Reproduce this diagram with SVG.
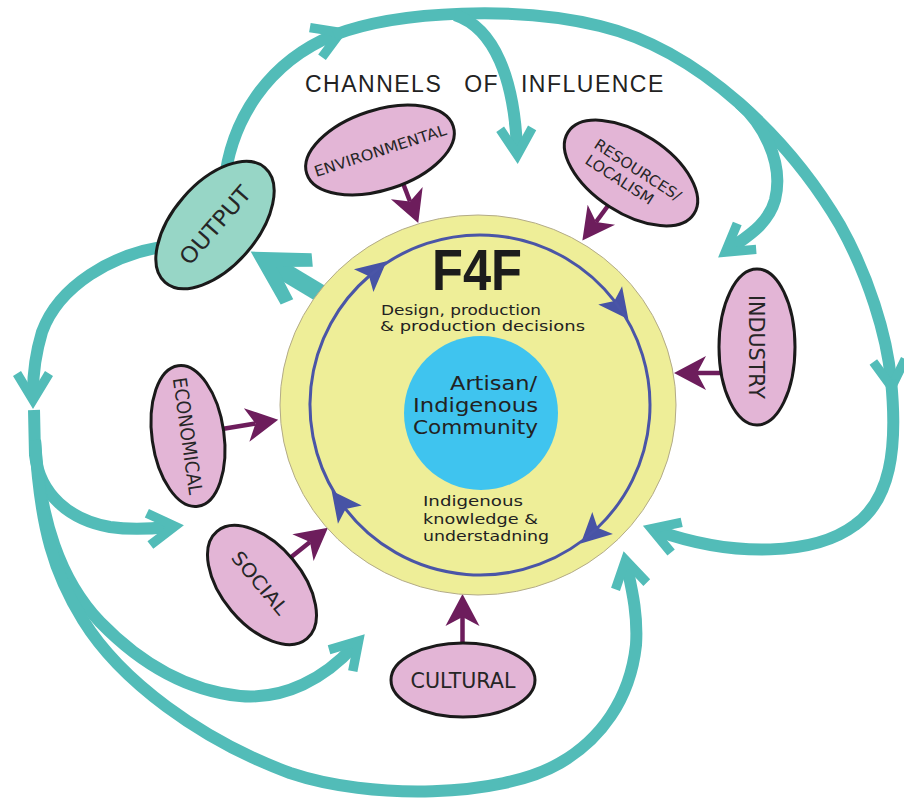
<svg xmlns="http://www.w3.org/2000/svg" width="904" height="802" viewBox="0 0 904 802">
  <defs>
    <style>
      .teal { fill: none; stroke: #52bcb8; stroke-width: 12; }
      .teal-big { fill: none; stroke: #52bcb8; stroke-width: 18; }
      .purple { fill: none; stroke: #6d1d5c; stroke-width: 4.5; }
      .oval { fill: #e3b5d6; stroke: #1a1a1a; stroke-width: 3; }
      .oval-out { fill: #97d6c6; stroke: #1a1a1a; stroke-width: 3; }
      .lbl { font-family: "DejaVu Sans", "Liberation Sans", sans-serif; fill: #262626; text-anchor: middle; }
      .hand { font-family: "DejaVu Sans", "Liberation Sans", sans-serif; fill: #222; }
      .ring { fill: none; stroke: #4a55a7; stroke-width: 3; }
    </style>
    <marker id="tealHead" markerUnits="userSpaceOnUse" markerWidth="60" markerHeight="60" refX="0" refY="0" orient="auto" overflow="visible">
      <path d="M16,0 L-17,-20 L-22,-12 L-2,0 L-22,12 L-17,20 Z" fill="#52bcb8"/>
    </marker>
    <marker id="tealBigHead" markerUnits="userSpaceOnUse" markerWidth="90" markerHeight="90" refX="0" refY="0" orient="auto" overflow="visible">
      <path d="M26,0 L-27,-30 L-35,-19 L-4,0 L-35,19 L-27,30 Z" fill="#52bcb8"/>
    </marker>
    <marker id="purpleHead" markerUnits="userSpaceOnUse" markerWidth="40" markerHeight="40" refX="0" refY="0" orient="auto" overflow="visible">
      <path d="M23,0 L-9,-17 L0,0 L-9,17 Z" fill="#6d1d5c"/>
    </marker>
    <marker id="ringHead" markerUnits="userSpaceOnUse" markerWidth="40" markerHeight="40" refX="0" refY="0" orient="auto" overflow="visible">
      <path d="M22,0 L-8,-15 L-1,0 L-8,15 Z" fill="#4753a5"/>
    </marker>
  </defs>

  <rect width="904" height="802" fill="#ffffff"/>

  <!-- channels of influence: teal loops and purple inputs -->
  <g id="connectors">
    <path class="teal" d="M224,186 C230,120 268,62 334,35" marker-end="url(#tealHead)"/>
    <path class="teal" d="M334,35 C400,10 520,6 600,26 C700,50 790,140 840,225 C868,275 887,335 891,380" marker-end="url(#tealHead)"/>
    <path class="teal" d="M455,15 C495,28 514,80 517,148" marker-end="url(#tealHead)"/>
    <path class="teal" d="M739,103 C760,121 785,160 775,200 C768,225 746,237 731,248" marker-end="url(#tealHead)"/>
    <path class="teal" d="M891,380 C898,450 890,500 855,525 C815,555 735,558 658,531" marker-end="url(#tealHead)"/>
    <path class="teal" d="M175,245 C110,252 58,288 42,332 C36,352 33,372 33,393" marker-end="url(#tealHead)"/>
    <path class="teal" d="M34,410 L35,455 C40,495 70,520 110,527 C130,530 150,529 168,527" marker-end="url(#tealHead)"/>
    <path class="teal" d="M35,440 C40,520 60,580 100,622 C135,658 180,690 240,696 C285,700 325,678 354,646" marker-end="url(#tealHead)"/>
    <path class="teal" d="M35,440 C40,530 55,575 83,620 C120,680 200,740 290,773 C370,800 500,798 560,763 C600,740 630,700 636,645 C638,615 632,590 627,567" marker-end="url(#tealHead)"/>
    <path class="teal-big" d="M338,304 L273,265" marker-end="url(#tealBigHead)"/>

    <path class="purple" d="M401,178 L410,201.5" marker-end="url(#purpleHead)"/>
    <path class="purple" d="M610,203 L596,222" marker-end="url(#purpleHead)"/>
    <path class="purple" d="M722,373 L697,373" marker-end="url(#purpleHead)"/>
    <path class="purple" d="M222,429 L255.5,423.5" marker-end="url(#purpleHead)"/>
    <path class="purple" d="M285,562 L310,542" marker-end="url(#purpleHead)"/>
    <path class="purple" d="M462.5,646 L462.5,617" marker-end="url(#purpleHead)"/>
  </g>

  <!-- central F4F circle -->
  <g id="node-f4f">
    <ellipse cx="478" cy="405" rx="198" ry="190" fill="#eeee98" stroke="#b3ab88" stroke-width="1"/>
    <path class="ring" d="M345,508.3 A170,170 0 0 1 369.8,275.5" marker-end="url(#ringHead)"/>
    <path class="ring" d="M369.8,275.5 A170,170 0 0 1 615,301.7" marker-end="url(#ringHead)"/>
    <path class="ring" d="M615,301.7 A170,170 0 0 1 596.8,528.5" marker-end="url(#ringHead)"/>
    <path class="ring" d="M596.8,528.5 A170,170 0 0 1 345,508.3" marker-end="url(#ringHead)"/>
    <text x="477" y="290" text-anchor="middle" font-family="'Liberation Sans', 'DejaVu Sans', sans-serif" font-weight="700" font-size="57" fill="#1c1c1c" textLength="90" lengthAdjust="spacingAndGlyphs">F4F</text>
    <text class="hand" font-size="13.5" x="381" y="315" textLength="160" lengthAdjust="spacingAndGlyphs">Design, production</text>
    <text class="hand" font-size="13.5" x="380" y="331" textLength="205" lengthAdjust="spacingAndGlyphs">&amp; production decisions</text>
    <text class="hand" font-size="14" x="423" y="506" textLength="100" lengthAdjust="spacingAndGlyphs">Indigenous</text>
    <text class="hand" font-size="14" x="423" y="524" textLength="115" lengthAdjust="spacingAndGlyphs">knowledge &amp;</text>
    <text class="hand" font-size="14" x="423" y="541" textLength="126" lengthAdjust="spacingAndGlyphs">understadning</text>
  </g>

  <!-- inner community circle -->
  <g id="node-community">
    <circle cx="481" cy="413" r="77" fill="#3fc4ef"/>
    <text class="hand" font-size="19" x="450" y="390" textLength="87" lengthAdjust="spacingAndGlyphs">Artisan/</text>
    <text class="hand" font-size="19" x="413" y="412" textLength="125" lengthAdjust="spacingAndGlyphs">Indigenous</text>
    <text class="hand" font-size="19" x="413" y="434" textLength="125" lengthAdjust="spacingAndGlyphs">Community</text>
  </g>

  <g id="node-output" transform="translate(215,225) rotate(-49)">
    <ellipse class="oval-out" rx="76" ry="42"/>
    <text class="lbl" y="8" font-size="22" textLength="96" lengthAdjust="spacingAndGlyphs">OUTPUT</text>
  </g>

  <g id="node-environmental" transform="translate(380,150) rotate(-18)">
    <ellipse class="oval" rx="77" ry="40"/>
    <text class="lbl" y="6" font-size="15" textLength="138" lengthAdjust="spacingAndGlyphs">ENVIRONMENTAL</text>
  </g>

  <g id="node-resources" transform="translate(631,173) rotate(33)">
    <ellipse class="oval" rx="75" ry="40"/>
    <text class="lbl" x="4" y="-1" font-size="15" textLength="100" lengthAdjust="spacingAndGlyphs">RESOURCES/</text>
    <text class="lbl" x="-6" y="17" font-size="15" textLength="78" lengthAdjust="spacingAndGlyphs">LOCALISM</text>
  </g>

  <g id="node-industry" transform="translate(757,347)">
    <ellipse class="oval" rx="38" ry="78"/>
    <text class="lbl" transform="rotate(90)" y="8" font-size="22" textLength="104" lengthAdjust="spacingAndGlyphs">INDUSTRY</text>
  </g>

  <g id="node-economical" transform="translate(188,436) rotate(82)">
    <ellipse class="oval" rx="71" ry="36"/>
    <text class="lbl" y="7" font-size="19" textLength="118" lengthAdjust="spacingAndGlyphs">ECONOMICAL</text>
  </g>

  <g id="node-social" transform="translate(262,585) rotate(50)">
    <ellipse class="oval" rx="70" ry="40"/>
    <text class="lbl" x="-3" y="7" font-size="19" textLength="76" lengthAdjust="spacingAndGlyphs">SOCIAL</text>
  </g>

  <g id="node-cultural" transform="translate(463,680)">
    <ellipse class="oval" rx="72" ry="37"/>
    <text class="lbl" y="8" font-size="21" textLength="105" lengthAdjust="spacingAndGlyphs">CULTURAL</text>
  </g>

  <text id="title" x="305" y="92" font-family="'Liberation Sans', 'DejaVu Sans', sans-serif" font-size="23" fill="#222" letter-spacing="1.5" word-spacing="14">CHANNELS OF INFLUENCE</text>
</svg>
